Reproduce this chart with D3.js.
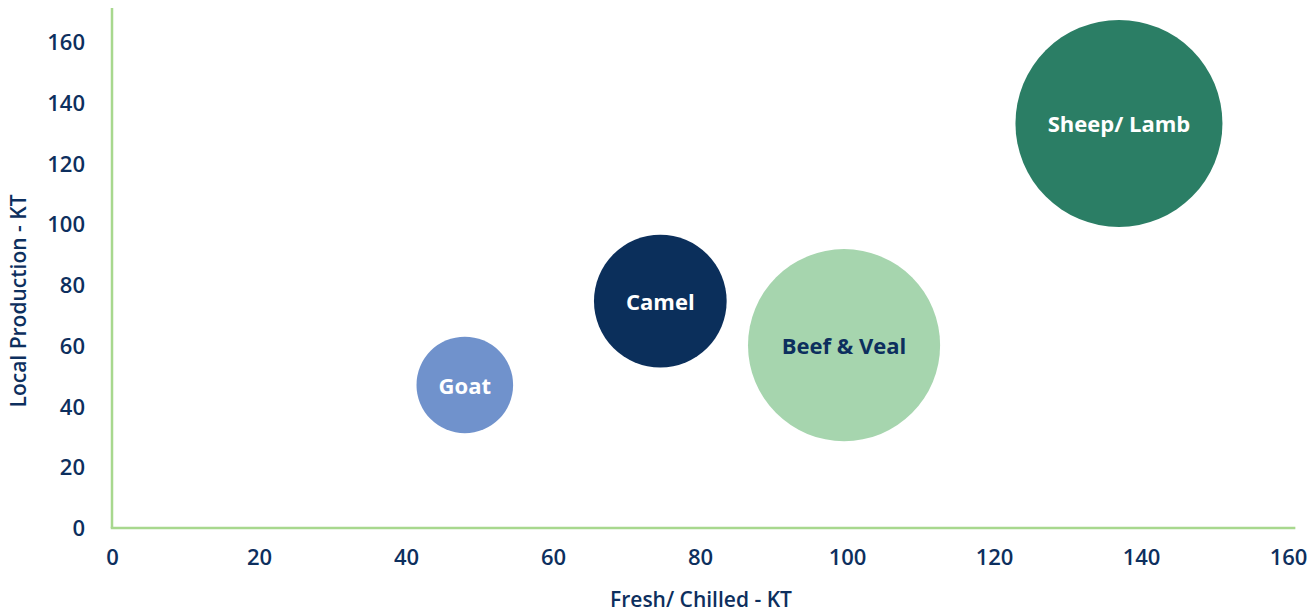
<!DOCTYPE html>
<html>
<head>
<meta charset="utf-8">
<script src="https://cdn.jsdelivr.net/npm/d3@7"></script>
<style>
  html, body { margin: 0; padding: 0; background: #ffffff; }
  svg { display: block; }
  text { font-family: "Open Sans", "Noto Sans", sans-serif; }
</style>
</head>
<body>
<div id="chart"></div>
<script>
// ---- data ----
const categories = ["Goat", "Camel", "Beef & Veal", "Sheep/ Lamb"];
const freshChilled = [48.0, 74.6, 99.6, 137.0];      // x, KT
const localProduction = [47.1, 74.7, 60.2, 133.2];   // y, KT
const bubbleSize = [22, 41.5, 87, 101];               // bubble size
const xTicks = [0, 20, 40, 60, 80, 100, 120, 140, 160];
const yTicks = [0, 20, 40, 60, 80, 100, 120, 140, 160];
const xTitle = "Fresh/ Chilled - KT";
const yTitle = "Local Production - KT";

const fills = ["#7092cc", "#0b2f5b", "#a6d5ae", "#2b7e65"];
const labelColors = ["#ffffff", "#ffffff", "#0d2f5e", "#ffffff"];
const navy = "#0d2f5e";
const axisGreen = "#a8d88e";

const W = 1316, H = 614;
const svg = d3.select("#chart").append("svg").attr("width", W).attr("height", H);

const x = d3.scaleLinear().domain([0, 160]).range([112, 1288]);
const y = d3.scaleLinear().domain([0, 160]).range([528, 42]);
const r = d3.scaleSqrt().domain([0, d3.max(bubbleSize)]).range([0, 103.5]);

const data = categories.map((c, i) => ({
  name: c, xv: freshChilled[i], yv: localProduction[i], s: bubbleSize[i],
  fill: fills[i], lc: labelColors[i]
}));

// axes lines
svg.append("line").attr("x1", x(0)).attr("x2", x(0)).attr("y1", y(171.2)).attr("y2", y(0))
  .attr("stroke", axisGreen).attr("stroke-width", 2.5);
svg.append("line").attr("x1", x(0) - 1.25).attr("x2", x(161)).attr("y1", y(0)).attr("y2", y(0))
  .attr("stroke", axisGreen).attr("stroke-width", 2.5);

// x axis tick labels
const xAxis = d3.axisBottom(x).tickValues(xTicks).tickSize(0).tickPadding(0);
const gx = svg.append("g").attr("transform", `translate(0,${y(0)})`).call(xAxis);
gx.select(".domain").remove();
gx.selectAll("text").attr("y", 29).attr("dy", "0.35em")
  .attr("fill", navy).style("font-size", "22px").style("font-weight", 600)
  .style("font-family", '"Open Sans", sans-serif');

// y axis tick labels
const yAxis = d3.axisLeft(y).tickValues(yTicks).tickSize(0).tickPadding(0);
const gy = svg.append("g").attr("transform", `translate(${x(0)},0)`).call(yAxis);
gy.select(".domain").remove();
gy.selectAll("text").attr("x", -27).attr("dy", "0.35em")
  .attr("fill", navy).style("font-size", "22px").style("font-weight", 600)
  .style("font-family", '"Open Sans", sans-serif');

// axis titles
svg.append("text").attr("x", 701).attr("y", 600).attr("dy", "0.35em")
  .attr("text-anchor", "middle").attr("fill", navy)
  .style("font-size", "21px").style("font-weight", 600).text(xTitle);
svg.append("text").attr("transform", "translate(19,301) rotate(-90)").attr("dy", "0.35em")
  .attr("text-anchor", "middle").attr("fill", navy)
  .style("font-size", "21px").style("font-weight", 600).text(yTitle);

// bubbles
const g = svg.append("g");
g.selectAll("circle").data(data).join("circle")
  .attr("cx", d => x(d.xv)).attr("cy", d => y(d.yv)).attr("r", d => r(d.s))
  .attr("fill", d => d.fill);
g.selectAll("text.lbl").data(data).join("text").attr("class", "lbl")
  .attr("x", d => x(d.xv)).attr("y", d => y(d.yv) + 1).attr("dy", "0.35em")
  .attr("text-anchor", "middle").attr("fill", d => d.lc)
  .style("font-size", "22px").style("font-weight", 700).text(d => d.name);
</script>
</body>
</html>
